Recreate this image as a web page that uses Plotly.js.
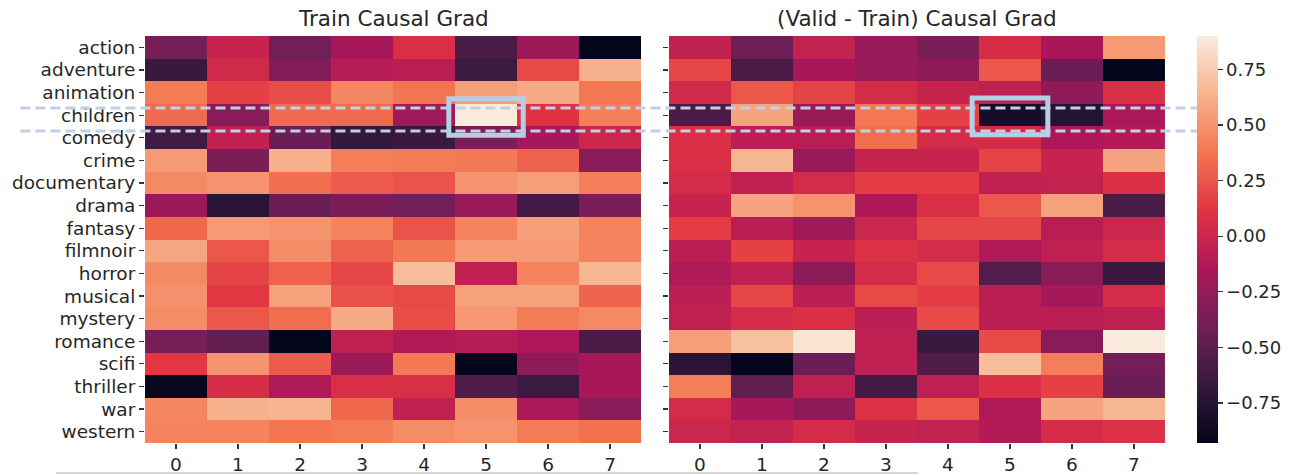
<!DOCTYPE html>
<html>
<head>
<meta charset="utf-8">
<script src="https://cdn.plot.ly/plotly-3.0.1.min.js"></script>
<style>html,body{margin:0;padding:0;background:#fff;}#chart{width:1294px;height:475px;}</style>
</head>
<body>
<div id="chart"></div>
<script>
const genres = ["action","adventure","animation","children","comedy","crime","documentary","drama","fantasy","filmnoir","horror","musical","mystery","romance","scifi","thriller","war","western"];
const columns = [0,1,2,3,4,5,6,7];
const colorbarTicks = [0.75,0.5,0.25,0,-0.25,-0.5,-0.75];

const trainGrad = [
  [-0.38,-0.02,-0.40,-0.17, 0.07,-0.58,-0.22,-0.93],
  [-0.65, 0.03,-0.33,-0.10,-0.09,-0.64, 0.20, 0.62],
  [ 0.40, 0.17, 0.22, 0.45, 0.37, 0.55, 0.60, 0.38],
  [ 0.33,-0.30, 0.33, 0.33,-0.20, 0.90, 0.10, 0.42],
  [-0.62,-0.05,-0.43,-0.68,-0.65,-0.35,-0.18, 0.00],
  [ 0.53,-0.37, 0.62, 0.41, 0.40, 0.39, 0.30,-0.30],
  [ 0.46, 0.50, 0.35, 0.27, 0.24, 0.50, 0.55, 0.41],
  [-0.22,-0.72,-0.43,-0.36,-0.40,-0.23,-0.60,-0.37],
  [ 0.32, 0.53, 0.50, 0.43, 0.24, 0.43, 0.55, 0.43],
  [ 0.58, 0.26, 0.48, 0.30, 0.39, 0.53, 0.53, 0.43],
  [ 0.46, 0.18, 0.30, 0.19, 0.68,-0.05, 0.43, 0.65],
  [ 0.49, 0.13, 0.56, 0.23, 0.20, 0.56, 0.56, 0.31],
  [ 0.47, 0.26, 0.34, 0.60, 0.22, 0.52, 0.40, 0.46],
  [-0.38,-0.47,-0.93,-0.05,-0.12,-0.10,-0.14,-0.57],
  [ 0.13, 0.50, 0.27,-0.22, 0.39,-0.92,-0.28,-0.17],
  [-0.90, 0.06,-0.13, 0.07, 0.07,-0.55,-0.64,-0.16],
  [ 0.45, 0.62, 0.64, 0.32,-0.05, 0.48,-0.15,-0.30],
  [ 0.43, 0.43, 0.37, 0.40, 0.47, 0.50, 0.40, 0.36]
];

const validMinusTrainGrad = [
  [-0.05,-0.42,-0.04,-0.23,-0.37, 0.06,-0.16, 0.53],
  [ 0.19,-0.58,-0.16,-0.23,-0.28, 0.26,-0.43,-0.93],
  [ 0.03, 0.26, 0.18, 0.05,-0.02,-0.06,-0.28, 0.07],
  [-0.58, 0.57,-0.23, 0.38, 0.17,-0.82,-0.75,-0.15],
  [ 0.08,-0.08,-0.09, 0.35, 0.05, 0.05,-0.15,-0.11],
  [ 0.08, 0.65,-0.23,-0.02,-0.02, 0.18,-0.02, 0.57],
  [ 0.05,-0.06, 0.05, 0.15, 0.15,-0.06,-0.04, 0.08],
  [-0.02, 0.57, 0.50,-0.14, 0.07, 0.26, 0.56,-0.57],
  [ 0.15,-0.09,-0.20, 0.00, 0.19, 0.19,-0.09, 0.00],
  [-0.08, 0.17,-0.02, 0.09, 0.05,-0.13,-0.06, 0.05],
  [-0.13,-0.06,-0.28, 0.05, 0.20,-0.53,-0.30,-0.65],
  [-0.08, 0.19,-0.08, 0.20, 0.15,-0.08,-0.18, 0.05],
  [-0.06, 0.05, 0.08,-0.08, 0.21,-0.08,-0.08,-0.06],
  [ 0.55, 0.70, 0.87,-0.06,-0.65, 0.21,-0.30, 0.90],
  [-0.72,-0.92,-0.43,-0.06,-0.54, 0.68, 0.41,-0.39],
  [ 0.41,-0.48,-0.06,-0.60,-0.06, 0.08, 0.17,-0.43],
  [ 0.05,-0.18,-0.28, 0.09, 0.26,-0.13, 0.57, 0.65],
  [ 0.00,-0.04, 0.05,-0.02,-0.04,-0.11, 0.05, 0.09]
];

const rocket = [
  [0.000,"#03051a"],[0.143,"#35193e"],[0.286,"#701f57"],[0.429,"#ad1759"],
  [0.571,"#e13342"],[0.714,"#f37651"],[0.857,"#f6b48f"],[1.000,"#faebdd"]
];

const FONT = "DejaVu Sans, sans-serif";
const TXT = "#262626";

const traces = [
  {type:"heatmap", x:columns, y:genres, z:trainGrad, coloraxis:"coloraxis", xaxis:"x", yaxis:"y", hoverongaps:false},
  {type:"heatmap", x:columns, y:genres, z:validMinusTrainGrad, coloraxis:"coloraxis", xaxis:"x2", yaxis:"y2", hoverongaps:false}
];

const axBase = {ticks:"outside", ticklen:5, tickwidth:1.2, tickcolor:"#333", showgrid:false, zeroline:false, showline:false,
  tickfont:{family:FONT, size:18.5, color:TXT}};

const lineColor = "#bfd1e3";
const rectColor = "#b5cfe7";

const layout = {
  width:1294, height:475,
  margin:{l:145, r:125, t:36, b:32, pad:0},
  paper_bgcolor:"#fff", plot_bgcolor:"#fff",
  font:{family:FONT, color:TXT},
  showlegend:false,
  xaxis:Object.assign({}, axBase, {domain:[0,0.48633], anchor:"y", tickvals:columns, range:[-0.5,7.5]}),
  yaxis:Object.assign({}, axBase, {anchor:"x", autorange:"reversed", type:"category"}),
  xaxis2:Object.assign({}, axBase, {domain:[0.51367,1], anchor:"y2", tickvals:columns, range:[-0.5,7.5]}),
  yaxis2:Object.assign({}, axBase, {anchor:"x2", autorange:"reversed", type:"category", showticklabels:false}),
  coloraxis:{
    colorscale:rocket, cmin:-0.93, cmax:0.90,
    colorbar:{x:1.03125, xanchor:"left", y:0.5, yanchor:"middle", len:1, lenmode:"fraction",
      thickness:21, thicknessmode:"pixels", xpad:0, ypad:0, outlinewidth:0,
      ticks:"outside", ticklen:5, tickwidth:1.2, tickcolor:"#333",
      tickvals:colorbarTicks, tickformat:".2f",
      tickfont:{family:FONT, size:18, color:TXT}}
  },
  annotations:[
    {text:"Train Causal Grad", xref:"paper", yref:"paper", x:0.24316, y:1.0418, xanchor:"center", yanchor:"middle", showarrow:false, font:{family:FONT, size:21.5, color:TXT}},
    {text:"(Valid - Train) Causal Grad", xref:"paper", yref:"paper", x:0.75683, y:1.0418, xanchor:"center", yanchor:"middle", showarrow:false, font:{family:FONT, size:21.5, color:TXT}}
  ],
  shapes:[
    {type:"line", xref:"paper", yref:"paper", x0:-0.1221, x1:1.0518, y0:0.8231, y1:0.8231, line:{color:lineColor, width:3, dash:"10px,5px"}, layer:"above"},
    {type:"line", xref:"paper", yref:"paper", x0:-0.1221, x1:1.0518, y0:0.7666, y1:0.7666, line:{color:lineColor, width:3, dash:"10px,5px"}, layer:"above"},
    {type:"rect", xref:"x", yref:"y", x0:4.4, x1:5.6, y0:2.28, y1:3.89, line:{color:rectColor, width:5}, fillcolor:"rgba(0,0,0,0)", layer:"above"},
    {type:"rect", xref:"x2", yref:"y2", x0:4.39, x1:5.61, y0:2.24, y1:3.87, line:{color:rectColor, width:5}, fillcolor:"rgba(0,0,0,0)", layer:"above"},
    {type:"line", xref:"paper", yref:"paper", x0:-0.0869, x1:0.7578, y0:-0.0737, y1:-0.0737, line:{color:"#d6d6d6", width:2}, layer:"above"}
  ]
};

Plotly.newPlot("chart", traces, layout, {displayModeBar:false, staticPlot:true});
</script>
</body>
</html>
